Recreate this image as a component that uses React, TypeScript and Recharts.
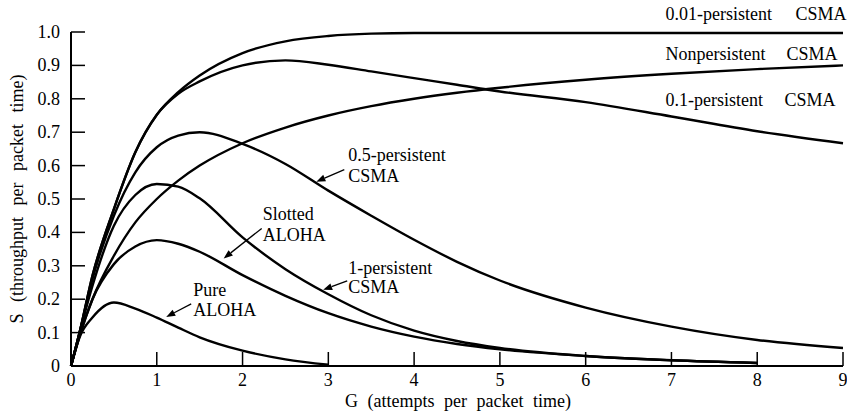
import { LineChart, Line, XAxis, YAxis, ReferenceDot, Label } from 'recharts';

// offered load G (attempts per packet time)
const G_VALUES = [0, 0.1, 0.25, 0.5, 0.75, 1, 1.25, 1.5, 2, 2.5, 3, 3.5, 4, 4.5, 5, 6, 7, 8, 9];

// throughput S, one array per protocol
const PURE_ALOHA = [0, 0.086, 0.145, 0.19, 0.172, 0.145, 0.115, 0.086, 0.046, 0.02, 0.004, null, null, null, null, null, null, null, null];
const SLOTTED_ALOHA = [0, 0.09, 0.2, 0.305, 0.358, 0.377, 0.366, 0.342, 0.272, 0.21, 0.158, 0.118, 0.088, 0.066, 0.05, 0.03, 0.017, 0.009, null];
const CSMA_1 = [0, 0.1, 0.24, 0.42, 0.512, 0.545, 0.537, 0.502, 0.385, 0.29, 0.215, 0.152, 0.106, 0.075, 0.054, 0.03, 0.017, 0.009, null];
const CSMA_05 = [0, 0.1, 0.26, 0.45, 0.58, 0.655, 0.69, 0.7, 0.665, 0.605, 0.525, 0.45, 0.378, 0.312, 0.256, 0.175, 0.118, 0.078, 0.054];
const CSMA_01 = [0, 0.1, 0.27, 0.47, 0.64, 0.752, 0.815, 0.852, 0.9, 0.915, 0.902, 0.882, 0.862, 0.842, 0.822, 0.79, 0.747, 0.703, 0.667];
const NONPERSISTENT = [0, 0.09, 0.2, 0.33, 0.43, 0.5, 0.555, 0.6, 0.667, 0.714, 0.75, 0.778, 0.8, 0.818, 0.833, 0.857, 0.875, 0.889, 0.9];
const CSMA_001 = [0, 0.1, 0.27, 0.47, 0.64, 0.752, 0.82, 0.87, 0.937, 0.972, 0.988, 0.995, 0.997, 0.997, 0.997, 0.997, 0.997, 0.997, 0.997];

const X_TICKS = [0, 1, 2, 3, 4, 5, 6, 7, 8, 9];
const Y_TICKS = [0, 0.1, 0.2, 0.3, 0.4, 0.5, 0.6, 0.7, 0.8, 0.9, 1.0];
const Y_TICK_LABELS = ['0', '0.1', '0.2', '0.3', '0.4', '0.5', '0.6', '0.7', '0.8', '0.9', '1.0'];

const SERIES = [
  { key: 'pure', values: PURE_ALOHA },
  { key: 'slotted', values: SLOTTED_ALOHA },
  { key: 'p1', values: CSMA_1 },
  { key: 'p05', values: CSMA_05 },
  { key: 'p01', values: CSMA_01 },
  { key: 'nonp', values: NONPERSISTENT },
  { key: 'p001', values: CSMA_001 },
];

const rows = G_VALUES.map((g, i) => {
  const row: Record<string, number | null> = { G: g };
  SERIES.forEach((s) => {
    row[s.key] = s.values[i];
  });
  return row;
});

const WIDTH = 847;
const HEIGHT = 412;
const MARGIN = { top: 32, right: 4, bottom: 0, left: 0 };
const Y_AXIS_W = 71;
const X_AXIS_H = 46;
const PLOT_LEFT = MARGIN.left + Y_AXIS_W;
const PLOT_BOTTOM = HEIGHT - MARGIN.bottom - X_AXIS_H;
const FONT = '"Liberation Serif", "DejaVu Serif", serif';
const INK = '#000';

function YTick(props: any) {
  const { y, payload } = props;
  const idx = Y_TICKS.findIndex((t) => Math.abs(t - payload.value) < 1e-6);
  return (
    <g>
      <line x1={PLOT_LEFT} x2={PLOT_LEFT + 14} y1={y} y2={y} stroke={INK} strokeWidth={1.5} />
      <text x={PLOT_LEFT - 11} y={y + 6} textAnchor="end" fontFamily={FONT} fontSize={18} fill={INK}>
        {idx >= 0 ? Y_TICK_LABELS[idx] : payload.value}
      </text>
    </g>
  );
}

function XTick(props: any) {
  const { x, payload } = props;
  return (
    <g>
      <line x1={x} x2={x} y1={PLOT_BOTTOM} y2={PLOT_BOTTOM - 14} stroke={INK} strokeWidth={1.5} />
      <text x={x} y={PLOT_BOTTOM + 20} textAnchor="middle" fontFamily={FONT} fontSize={18} fill={INK}>
        {payload.value}
      </text>
    </g>
  );
}

// labels with arrows: anchored at the arrow tip (data coords), offsets in px
const ARROW_NOTES = [
  { x: 1.11, y: 0.147, lines: ['Pure', 'ALOHA'], tx: 27, ty: [-21, -1], tail: [25, -13] },
  { x: 1.78, y: 0.322, lines: ['Slotted', 'ALOHA'], tx: 39, ty: [-38, -17], tail: [38, -30] },
  { x: 2.94, y: 0.228, lines: ['1-persistent', 'CSMA'], tx: 25, ty: [-16, 3], tail: [24, -9] },
  { x: 2.86, y: 0.552, lines: ['0.5-persistent', 'CSMA'], tx: 32, ty: [-21, 0], tail: [28, -12] },
];

// right-hand labels: [name, CSMA] with the CSMA word set apart
const SIDE_NOTES = [
  { x: 6.93, y: 1.036, name: '0.01-persistent', gap: 130 },
  { x: 6.93, y: 0.916, name: 'Nonpersistent', gap: 121 },
  { x: 6.93, y: 0.778, name: '0.1-persistent', gap: 119 },
];

function arrowShape(note: (typeof ARROW_NOTES)[number]) {
  return (p: any) => {
    const tx = p.cx;
    const ty = p.cy;
    const fx = tx + note.tail[0];
    const fy = ty + note.tail[1];
    const ang = Math.atan2(ty - fy, tx - fx);
    const len = 9;
    const half = 3.5;
    const bx = tx - len * Math.cos(ang);
    const by = ty - len * Math.sin(ang);
    const nx = -Math.sin(ang) * half;
    const ny = Math.cos(ang) * half;
    return (
      <g>
        <line x1={fx} y1={fy} x2={bx} y2={by} stroke={INK} strokeWidth={1.3} />
        <polygon points={`${tx},${ty} ${bx + nx},${by + ny} ${bx - nx},${by - ny}`} fill={INK} />
        {note.lines.map((t, i) => (
          <text key={t} x={tx + note.tx} y={ty + note.ty[i]} fontFamily={FONT} fontSize={18} fill={INK}>
            {t}
          </text>
        ))}
      </g>
    );
  };
}

function sideShape(note: (typeof SIDE_NOTES)[number]) {
  return (p: any) => (
    <g>
      <text x={p.cx} y={p.cy} fontFamily={FONT} fontSize={18} fill={INK}>
        {note.name}
      </text>
      <text x={p.cx + note.gap} y={p.cy} fontFamily={FONT} fontSize={18} fill={INK}>
        CSMA
      </text>
    </g>
  );
}

export default function App() {
  return (
    <div style={{ position: 'absolute', left: 0, top: 0, width: WIDTH, height: HEIGHT, background: '#fff' }}>
      <LineChart width={WIDTH} height={HEIGHT} data={rows} margin={MARGIN}>
        <XAxis
          dataKey="G"
          type="number"
          domain={[0, 9]}
          ticks={X_TICKS}
          height={X_AXIS_H}
          tickLine={false}
          tick={<XTick />}
          axisLine={{ stroke: INK, strokeWidth: 2 }}
        >
          <Label
            content={() => (
              <text x={458} y={407} textAnchor="middle" fontFamily={FONT} fontSize={18} fill={INK} style={{ wordSpacing: 5 }}>
                G (attempts per packet time)
              </text>
            )}
          />
        </XAxis>
        <YAxis
          type="number"
          domain={[0, 1]}
          ticks={Y_TICKS}
          width={Y_AXIS_W}
          tickLine={false}
          tick={<YTick />}
          axisLine={{ stroke: INK, strokeWidth: 2 }}
        >
          <Label
            content={() => (
              <text
                x={23}
                y={199}
                transform="rotate(-90 23 199)"
                textAnchor="middle"
                fontFamily={FONT}
                fontSize={18}
                fill={INK}
                style={{ wordSpacing: 7 }}
              >
                S (throughput per packet time)
              </text>
            )}
          />
        </YAxis>
        {SERIES.map((s) => (
          <Line
            key={s.key}
            dataKey={s.key}
            type="monotone"
            stroke={INK}
            strokeWidth={2.4}
            dot={false}
            activeDot={false}
            isAnimationActive={false}
          />
        ))}
        {ARROW_NOTES.map((n) => (
          <ReferenceDot key={n.lines[0]} x={n.x} y={n.y} r={1} ifOverflow="visible" shape={arrowShape(n)} />
        ))}
        {SIDE_NOTES.map((n) => (
          <ReferenceDot key={n.name} x={n.x} y={n.y} r={1} ifOverflow="visible" shape={sideShape(n)} />
        ))}
      </LineChart>
    </div>
  );
}
